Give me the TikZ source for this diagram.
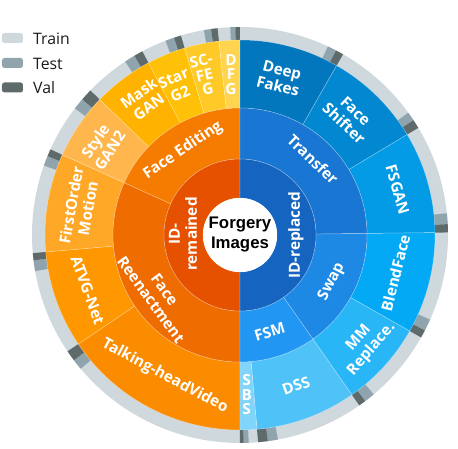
\documentclass[tikz,border=0pt]{standalone}
\usepackage{fontspec}
\setmainfont{Open Sans}
\newfontfamily\ctrfont{Liberation Sans}
\definecolor{idrep}{HTML}{1565C0}
\definecolor{idrem}{HTML}{E65100}
\definecolor{transfer}{HTML}{1976D2}
\definecolor{swap}{HTML}{1E88E5}
\definecolor{fsm}{HTML}{2196F3}
\definecolor{editing}{HTML}{F57C00}
\definecolor{reenact}{HTML}{EF6C00}
\definecolor{deepfakes}{HTML}{0277BD}
\definecolor{faceshifter}{HTML}{0288D1}
\definecolor{fsgan}{HTML}{039BE5}
\definecolor{blendface}{HTML}{03A9F4}
\definecolor{mmrep}{HTML}{29B6F6}
\definecolor{dss}{HTML}{4FC3F7}
\definecolor{sbs}{HTML}{81D4FA}
\definecolor{talking}{HTML}{FB8C00}
\definecolor{atvg}{HTML}{FF9800}
\definecolor{firstorder}{HTML}{FFA726}
\definecolor{stylegan}{HTML}{FFB74D}
\definecolor{maskgan}{HTML}{FFB300}
\definecolor{stargan}{HTML}{FFC107}
\definecolor{scfeg}{HTML}{FFCA28}
\definecolor{dfg}{HTML}{FFD54F}
\definecolor{train}{HTML}{CFD8DC}
\definecolor{test}{HTML}{90A4AE}
\definecolor{val}{HTML}{5F6B6B}
\definecolor{legtext}{HTML}{1A1A1A}
% ring segment: inner r, outer r, start, end (degrees clockwise from top), colour
\newcommand{\ringseg}[5]{%
  \fill[#5] ({90-(#3)}:#2pt) arc[start angle={90-(#3)}, end angle={90-(#4)}, radius=#2pt]
    -- ({90-(#4)}:#1pt) arc[start angle={90-(#4)}, end angle={90-(#3)}, radius=#1pt] -- cycle;}
\newcommand{\ringsegb}[5]{%
  \filldraw[fill=#5, draw=white, draw opacity=0.35, line width=0.5pt] ({90-(#3)}:#2pt) arc[start angle={90-(#3)}, end angle={90-(#4)}, radius=#2pt]
    -- ({90-(#4)}:#1pt) arc[start angle={90-(#4)}, end angle={90-(#3)}, radius=#1pt] -- cycle;}
% tick: test start, val start, end
\newcommand{\splittick}[3]{%
  \ringseg{195}{208}{#1}{#2}{test}\ringseg{195}{208}{#2}{#3}{val}}
\tikzset{
  lbl/.style={text=white, font=\fontsize{15.3}{17}\selectfont\bfseries, align=center, inner sep=0pt},
  stack/.style={text=white, font=\fontsize{15.3}{14.5}\selectfont\bfseries, align=center, inner sep=0pt},
  ctr/.style={text=black, font=\ctrfont\fontsize{16.8}{20}\selectfont\bfseries, align=center, inner sep=0pt},
  legbox/.style={rounded corners=2.5pt, minimum width=21pt, minimum height=10pt, inner sep=0pt},
  legtxt/.style={text=legtext, font=\fontsize{15.8}{16}\selectfont, anchor=west, inner sep=0pt}
}
\begin{document}
\begin{tikzpicture}[x=1pt,y=1pt]
\useasboundingbox (-240,-214) rectangle (218,235);
% outer gray ring
\ringseg{194}{208}{0}{360}{train}
% ticks
\splittick{25}{27.5}{29.7}
\splittick{54}{56.5}{59}
\splittick{84}{87}{89.3}
\splittick{114}{117.3}{119.5}
\splittick{140}{143}{145}
\splittick{169.5}{172.3}{175}
\splittick{177.6}{179}{180}
\splittick{230}{233}{236}
\splittick{260}{263}{265}
\splittick{289.5}{292.3}{294.3}
\splittick{307.5}{310.7}{314}
\splittick{326.5}{329.5}{332}
\splittick{339}{341.5}{343.5}
\splittick{350}{352}{353.8}
\splittick{357.3}{358.7}{360}
% leaves
\ringsegb{127}{195}{0}{29.7}{deepfakes}
\ringsegb{127}{195}{29.7}{59}{faceshifter}
\ringsegb{127}{195}{59}{89.3}{fsgan}
\ringsegb{127}{195}{89.3}{119.5}{blendface}
\ringsegb{127}{195}{119.5}{145}{mmrep}
\ringsegb{127}{195}{145}{175}{dss}
\ringsegb{127}{195}{175}{180}{sbs}
\ringsegb{127}{195}{180}{236}{talking}
\ringsegb{127}{195}{236}{265}{atvg}
\ringsegb{127}{195}{265}{294.3}{firstorder}
\ringsegb{127}{195}{294.3}{314}{stylegan}
\ringsegb{127}{195}{314}{332}{maskgan}
\ringsegb{127}{195}{332}{343.5}{stargan}
\ringsegb{127}{195}{343.5}{353.8}{scfeg}
\ringsegb{127}{195}{353.8}{360}{dfg}
% middle ring
\ringsegb{76}{127}{0}{89.3}{transfer}
\ringsegb{76}{127}{89.3}{145}{swap}
\ringsegb{76}{127}{145}{180}{fsm}
\ringsegb{76}{127}{180}{294.3}{reenact}
\ringsegb{76}{127}{294.3}{360}{editing}
% inner ring
\ringsegb{37}{76}{0}{180}{idrep}
\ringsegb{37}{76}{180}{360}{idrem}
\fill[white] (0,0) circle[radius=37pt];
% labels
\node[ctr] (center) at (0,0) {Forgery\\Images};
\node[lbl, rotate=90] (idreplaced) at ({90-90.3}:56pt) {ID-replaced};
\node[lbl, rotate=90] (idremained) at ({90-271}:57pt) {ID-\\remained};
\node[lbl, rotate=-44] (transferl) at ({90-44}:105pt) {Transfer};
\node[lbl, rotate=63] (swapl) at ({90-117}:103pt) {Swap};
\node[lbl, rotate=17] (fsml) at ({90-163}:101.5pt) {FSM};
\node[lbl, rotate=34] (editingl) at ({90-326}:102pt) {Face Editing};
\node[lbl, rotate=-54] (reenactl) at ({90-234}:101.5pt) {Face\\Reenactment};
\node[lbl, rotate=-14] (deepfakesl) at ({90-14.3}:162pt) {Deep\\Fakes};
\node[lbl, rotate=-43] (faceshifterl) at ({90-43}:161pt) {Face\\Shifter};
\node[lbl, rotate=-74] (fsganl) at ({90-74}:164pt) {FSGAN};
\node[lbl, rotate=76] (blendfacel) at ({90-103.7}:160pt) {BlendFace};
\node[lbl, rotate=49] (mmrepl) at ({90-131}:166pt) {MM\\Replace.};
\node[lbl, rotate=20] (dssl) at ({90-159.6}:161pt) {DSS};
\node[stack] (sbsl) at ({90-177.6}:160pt) {S\\B\\S};
\node[lbl, rotate=-28] (talkingl) at ({90-208}:160pt) {Talking-headVideo};
\node[lbl, rotate=-70] (atvgl) at ({90-250}:162pt) {ATVG-Net};
\node[lbl, rotate=80] (firstorderl) at ({90-280}:163pt) {FirstOrder\\Motion};
\node[lbl, rotate=57] (styleganl) at ({90-303}:164pt) {Style\\GAN2};
\node[lbl, rotate=35.5] (maskganl) at ({90-324.5}:166pt) {Mask\\GAN};
\node[lbl, rotate=23] (starganl) at ({90-337}:162pt) {Star\\G2};
\node[stack, rotate=13] (scfegl) at ({90-347.5}:164pt) {SC-\\FE\\G};
\node[stack] (dfgl) at ({90-356.8}:161pt) {D\\F\\G};
% legend
\node[legbox, fill=train] (ltrain) at (-227.5,197) {};
\node[legbox, fill=test] (ltest) at (-227.5,172) {};
\node[legbox, fill=val] (lval) at (-227.5,147.5) {};
\node[legtxt] (ttrain) at (-207,196) {Train};
\node[legtxt] (ttest) at (-207,171.5) {Test};
\node[legtxt] (tval) at (-207,147) {Val};
\end{tikzpicture}
\end{document}
